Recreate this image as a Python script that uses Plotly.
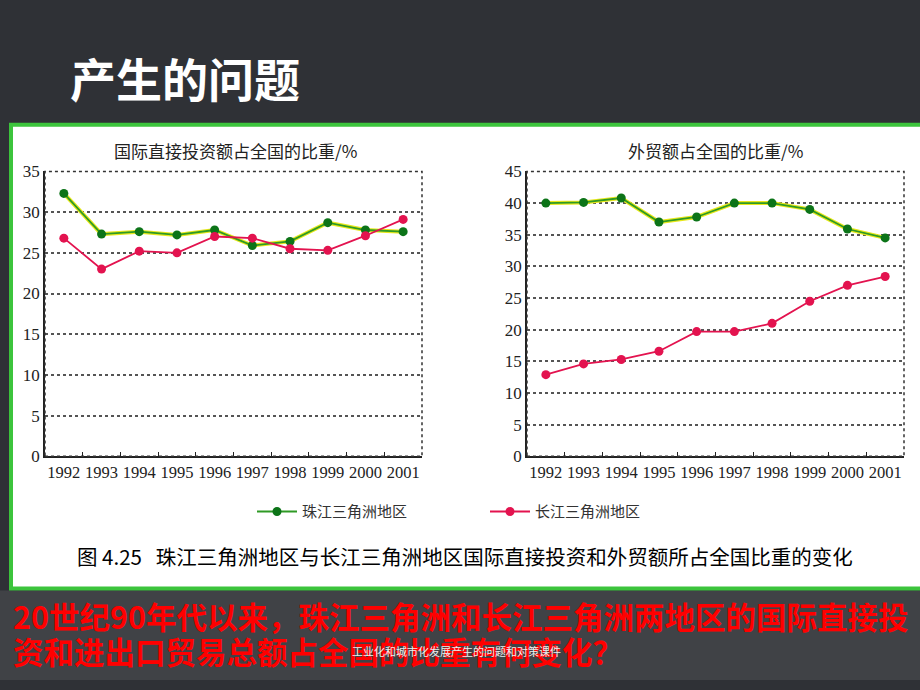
import plotly.graph_objects as go

years = ["1992", "1993", "1994", "1995", "1996", "1997", "1998", "1999", "2000", "2001"]
fdi_pearl = [32.3, 27.3, 27.6, 27.2, 27.8, 25.9, 26.4, 28.7, 27.8, 27.6]
fdi_yangtze = [26.8, 23.0, 25.2, 25.0, 27.0, 26.8, 25.5, 25.3, 27.1, 29.1]
trade_pearl = [40.0, 40.1, 40.8, 37.0, 37.8, 40.0, 40.0, 39.0, 35.9, 34.5]
trade_yangtze = [12.9, 14.6, 15.3, 16.6, 19.7, 19.7, 21.0, 24.5, 27.0, 28.4]

name_pearl = "珠江三角洲地区"
name_yangtze = "长江三角洲地区"
title_left = "国际直接投资额占全国的比重/%"
title_right = "外贸额占全国的比重/%"
caption = "图 4.25   珠江三角洲地区与长江三角洲地区国际直接投资和外贸额所占全国比重的变化"
slide_title = "产生的问题"
question_1 = "20世纪90年代以来，珠江三角洲和长江三角洲两地区的国际直接投"
question_2 = "资和进出口贸易总额占全国的比重有何变化？"
footer = "工业化和城市化发展产生的问题和对策课件"

W, H = 920, 690
GREEN = "#2f9a25"
GREEN_MK = "#0c7418"
YELLOW = "#e8e81a"
RED = "#e3134f"

fig = go.Figure()

def add_pair(xa, ya, pearl, yangtze, show):
    fig.add_trace(go.Scatter(x=years, y=pearl, xaxis=xa, yaxis=ya, mode="lines",
                             line=dict(color=YELLOW, width=4), showlegend=False, hoverinfo="skip"))
    fig.add_trace(go.Scatter(x=years, y=pearl, xaxis=xa, yaxis=ya, mode="lines+markers",
                             name=name_pearl, legendgroup="p", showlegend=show,
                             line=dict(color=GREEN, width=1.8),
                             marker=dict(color=GREEN_MK, size=9)))
    fig.add_trace(go.Scatter(x=years, y=yangtze, xaxis=xa, yaxis=ya, mode="lines+markers",
                             name=name_yangtze, legendgroup="y", showlegend=show,
                             line=dict(color=RED, width=1.8),
                             marker=dict(color=RED, size=9)))

add_pair("x", "y", fdi_pearl, fdi_yangtze, True)
add_pair("x2", "y2", trade_pearl, trade_yangtze, False)

def px(v):
    return v / W

def py(v):
    return 1 - v / H

ydom = [py(460), py(167)]
num_font = dict(family="Liberation Serif", size=16.5, color="#222")

xcommon = dict(type="category", categoryorder="array", categoryarray=years,
               range=[-0.5, 9.5], showgrid=False, zeroline=False, tickangle=0,
               ticks="inside", tickson="boundaries", ticklen=5, tickcolor="#222",
               tickfont=num_font, showline=True, linecolor="#222", linewidth=1.5)
ycommon = dict(showgrid=True, gridcolor="#555", griddash="dot", gridwidth=1.5,
               zeroline=False, ticks="", tickfont=dict(family="Liberation Serif", size=17, color="#222"),
               dtick=5, showline=True, linecolor="#222", linewidth=1.5)

fig.update_layout(
    width=W, height=H,
    margin=dict(l=0, r=0, t=0, b=0),
    paper_bgcolor="#2f3136",
    plot_bgcolor="rgba(0,0,0,0)",
    xaxis=dict(domain=[px(45), px(422)], anchor="y", **xcommon),
    yaxis=dict(domain=ydom, anchor="x", range=[0, 35], **ycommon),
    xaxis2=dict(domain=[px(527), px(904)], anchor="y2", **xcommon),
    yaxis2=dict(domain=ydom, anchor="x2", range=[0, 45], **ycommon),
    legend=dict(orientation="h", x=px(252), y=py(517), xanchor="left", yanchor="middle",
                entrywidth=178, entrywidthmode="pixels", bgcolor="rgba(0,0,0,0)",
                font=dict(family="Noto Sans CJK SC", size=15, color="#333"),
                itemwidth=40),
    showlegend=True,
)

shapes = [
    dict(type="rect", xref="paper", yref="paper", x0=0, x1=1, y0=0, y1=py(598),
         fillcolor="#404246", line=dict(width=0), layer="below"),
    dict(type="rect", xref="paper", yref="paper", x0=px(11), x1=px(925), y0=py(596), y1=py(119),
         fillcolor="white", line=dict(color="#3cc43c", width=4), layer="below"),
]
for xa in ["x", "x2"]:
    shapes.append(dict(type="rect", xref=f"{xa} domain", yref=("y" if xa == "x" else "y2") + " domain",
                       x0=0, x1=1, y0=0, y1=1, line=dict(color="#333", width=1.5, dash="dot")))
fig.update_layout(shapes=shapes)

ann = [
    dict(text=slide_title, x=px(68), y=py(70), xanchor="left", yanchor="middle",
         font=dict(family="Noto Sans CJK SC", size=46, color="white", weight="bold")),
    dict(text=title_left, x=px(235), y=py(145), xanchor="center", yanchor="middle",
         font=dict(family="Noto Sans CJK SC", size=17, color="#222")),
    dict(text=title_right, x=px(715), y=py(145), xanchor="center", yanchor="middle",
         font=dict(family="Noto Sans CJK SC", size=17, color="#222")),
    dict(text=caption, x=px(465), y=py(563), xanchor="center", yanchor="middle",
         font=dict(family="Noto Sans CJK SC", size=20.5, color="#000")),
    dict(text=question_1, x=px(11), y=py(624), xanchor="left", yanchor="middle",
         font=dict(family="Noto Sans CJK SC", size=30.5, color="#ff0000", weight="bold")),
    dict(text=question_2, x=px(11), y=py(660), xanchor="left", yanchor="middle",
         font=dict(family="Noto Sans CJK SC", size=30.5, color="#ff0000", weight="bold")),
    dict(text=footer, x=px(456), y=py(660), xanchor="center", yanchor="middle",
         font=dict(family="Noto Sans CJK SC", size=11, color="#eeeeee")),
]
for a in ann:
    a.update(xref="paper", yref="paper", showarrow=False)
fig.update_layout(annotations=ann)

fig.write_html("out.html")
